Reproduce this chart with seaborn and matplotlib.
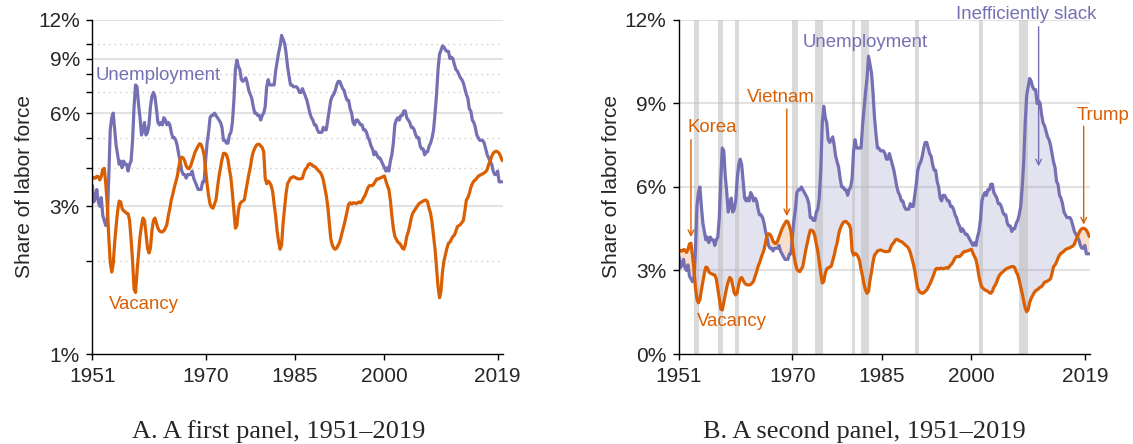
import numpy as np
import pandas as pd
import matplotlib
matplotlib.use("Agg")
import matplotlib.pyplot as plt
import seaborn as sns

# Quarterly data, 1951Q1 - 2019Q4 (percent of labor force)
years = list(range(1951, 2020))

unemployment = [
    3.5, 3.1, 3.2, 3.4,  3.1, 3.0, 3.2, 2.8,  2.7, 2.6, 2.7, 3.7,  5.3, 5.8, 6.0, 5.3,
    4.7, 4.4, 4.1, 4.2,  4.0, 4.2, 4.1, 4.1,  3.9, 4.1, 4.2, 4.9,  6.3, 7.4, 7.3, 6.4,
    5.8, 5.1, 5.3, 5.6,  5.1, 5.2, 5.5, 6.3,  6.8, 7.0, 6.8, 6.2,  5.6, 5.5, 5.6, 5.5,
    5.8, 5.7, 5.5, 5.6,  5.5, 5.2, 5.0, 5.0,  4.9, 4.7, 4.4, 4.2,  3.9, 3.8, 3.8, 3.7,
    3.8, 3.8, 3.8, 3.9,  3.7, 3.6, 3.5, 3.4,  3.4, 3.4, 3.6, 3.6,  4.2, 4.8, 5.2, 5.8,
    5.9, 5.9, 6.0, 5.9,  5.8, 5.7, 5.6, 5.4,  4.9, 4.9, 4.8, 4.8,  5.1, 5.2, 5.6, 6.6,
    8.3, 8.9, 8.5, 8.3,  7.7, 7.6, 7.7, 7.8,  7.5, 7.1, 6.9, 6.7,  6.3, 6.0, 6.0, 5.9,
    5.9, 5.7, 5.9, 6.0,  6.3, 7.3, 7.7, 7.4,  7.4, 7.4, 7.4, 8.2,  8.8, 9.4, 9.9, 10.7,
    10.4, 10.1, 9.4, 8.5, 7.9, 7.4, 7.4, 7.3,  7.3, 7.3, 7.2, 7.0,  7.0, 7.2, 7.0, 6.8,
    6.6, 6.3, 6.0, 5.8,  5.7, 5.5, 5.5, 5.3,  5.2, 5.2, 5.2, 5.4,  5.3, 5.3, 5.7, 6.1,
    6.6, 6.8, 6.9, 7.1,  7.4, 7.6, 7.6, 7.4,  7.2, 7.1, 6.8, 6.6,  6.6, 6.2, 6.0, 5.6,
    5.5, 5.7, 5.7, 5.6,  5.5, 5.5, 5.3, 5.3,  5.2, 5.0, 4.9, 4.7,  4.6, 4.4, 4.5, 4.4,
    4.3, 4.3, 4.2, 4.1,  4.0, 3.9, 4.0, 3.9,  4.2, 4.4, 4.8, 5.5,  5.7, 5.8, 5.7, 5.9,
    5.9, 6.1, 6.1, 5.8,  5.7, 5.6, 5.4, 5.4,  5.3, 5.1, 5.0, 5.0,  4.7, 4.6, 4.6, 4.4,
    4.5, 4.5, 4.7, 4.8,  5.0, 5.3, 6.0, 6.9,  8.3, 9.3, 9.6, 9.9,  9.8, 9.6, 9.5, 9.5,
    9.0, 9.1, 9.0, 8.6,  8.3, 8.2, 8.0, 7.8,  7.7, 7.5, 7.2, 6.9,  6.7, 6.2, 6.1, 5.7,
    5.6, 5.4, 5.1, 5.0,  4.9, 4.9, 4.9, 4.8,  4.6, 4.4, 4.3, 4.2,  4.1, 3.9, 3.8, 3.8,
    3.9, 3.6, 3.6, 3.6,
]

vacancy = [
    3.68, 3.72, 3.70, 3.75,  3.74, 3.65, 3.75, 3.95,  3.98, 3.55, 3.05, 2.40,
    1.98, 1.84, 1.95, 2.30,  2.60, 2.90, 3.12, 3.10,  2.95, 2.90, 2.88, 2.85,
    2.84, 2.70, 2.35, 2.00,  1.62, 1.58, 1.85, 2.10,  2.40, 2.60, 2.75, 2.70,
    2.45, 2.20, 2.12, 2.20,  2.50, 2.70, 2.75, 2.65,  2.55, 2.50, 2.48, 2.48,
    2.50, 2.55, 2.62, 2.80,  2.95, 3.15, 3.28, 3.45,  3.60, 3.75, 4.00, 4.28,
    4.32, 4.30, 4.20, 4.05,  3.98, 3.97, 4.05, 4.20,  4.35, 4.50, 4.60, 4.70,
    4.78, 4.75, 4.60, 4.40,  3.95, 3.55, 3.25, 3.05,  2.98, 2.96, 3.05, 3.15,
    3.45, 3.75, 4.00, 4.25,  4.45, 4.45, 4.40, 4.25,  3.95, 3.70, 3.30, 2.90,
    2.55, 2.60, 2.90, 3.05,  3.10, 3.12, 3.15, 3.35,  3.55, 3.80, 4.00, 4.30,
    4.50, 4.62, 4.72, 4.76,  4.76, 4.70, 4.65, 4.50,  3.70, 3.55, 3.62, 3.58,
    3.50, 3.35, 3.05, 2.80,  2.50, 2.30, 2.18, 2.25,  2.65, 2.95, 3.30, 3.55,
    3.62, 3.70, 3.72, 3.74,  3.72, 3.70, 3.68, 3.68,  3.68, 3.70, 3.85, 3.95,
    4.00, 4.10, 4.12, 4.10,  4.05, 4.04, 4.00, 3.95,  3.90, 3.86, 3.78, 3.65,
    3.45, 3.25, 3.00, 2.65,  2.36, 2.25, 2.20, 2.18,  2.20, 2.25, 2.30, 2.40,
    2.50, 2.62, 2.75, 2.90,  3.05, 3.08, 3.05, 3.08,  3.08, 3.06, 3.08, 3.10,
    3.08, 3.12, 3.20, 3.25,  3.35, 3.45, 3.50, 3.50,  3.50, 3.55, 3.62, 3.68,
    3.68, 3.70, 3.72, 3.74,  3.76, 3.62, 3.50, 3.40,  3.14, 2.80, 2.55, 2.40,
    2.35, 2.30, 2.28, 2.25,  2.20, 2.18, 2.25, 2.40,  2.48, 2.60, 2.75, 2.85,
    2.90, 2.95, 3.00, 3.05,  3.08, 3.10, 3.12, 3.14,  3.14, 3.10, 2.95, 2.85,
    2.65, 2.40, 2.18, 1.90,  1.65, 1.52, 1.60, 1.85,  2.00, 2.10, 2.20, 2.28,
    2.30, 2.35, 2.40, 2.42,  2.50, 2.58, 2.60, 2.62,  2.66, 2.70, 2.90, 3.14,
    3.20, 3.30, 3.45, 3.55,  3.62, 3.65, 3.70, 3.75,  3.78, 3.80, 3.82, 3.85,
    3.88, 3.95, 4.10, 4.20,  4.35, 4.45, 4.50, 4.52,  4.50, 4.45, 4.35, 4.22,
]

# NBER recessions (start, end in decimal years)
rec_start = [1953.5, 1957.6, 1960.3, 1969.9, 1973.8, 1980.0, 1981.5, 1990.5, 2001.2, 2007.9]
rec_end = [1954.4, 1958.3, 1961.1, 1970.9, 1975.2, 1980.5, 1982.9, 1991.2, 2001.9, 2009.5]

xticks = [1951, 1970, 1985, 2000, 2019]

purple = "#7570b3"
orange = "#d95f02"

t = [y + q / 4 for y in years for q in range(4)]
df = pd.DataFrame({"year": t, "Unemployment": unemployment, "Vacancy": vacancy})
u = df["Unemployment"].values
v = df["Vacancy"].values

sns.set_style("ticks")
plt.rcParams["font.family"] = ["Liberation Sans", "DejaVu Sans"]

fig = plt.figure(figsize=(11.33, 4.44), dpi=100)
ax1 = fig.add_axes([0.0815, 0.2027, 0.3622, 0.7523])
ax2 = fig.add_axes([0.5993, 0.2027, 0.3627, 0.7523])

# ---- Panel A: log scale
ax1.set_yscale("log")
for g in [3, 6, 9, 12]:
    ax1.axhline(g, color="#e2e2e2", lw=1.5, zorder=0)
for g in [2, 4, 5, 7, 8, 10]:
    ax1.axhline(g, color="#c9c9c9", lw=1, ls=(0, (1, 3)), zorder=0)
sns.lineplot(data=df, x="year", y="Unemployment", ax=ax1, color=purple, lw=2.3)
sns.lineplot(data=df, x="year", y="Vacancy", ax=ax1, color=orange, lw=2.3)
ax1.set_ylim(1, 12)
ax1.set_yticks([1, 3, 6, 9, 12])
ax1.set_yticklabels(["1%", "3%", "6%", "9%", "12%"])
ax1.set_yticks([2, 4, 5, 7, 8, 10], minor=True)
ax1.yaxis.set_minor_formatter(matplotlib.ticker.NullFormatter())
ax1.text(1962.0, 7.95, "Unemployment", color=purple, fontsize=13.4, ha="center", va="center")
ax1.text(1959.6, 1.44, "Vacancy", color=orange, fontsize=13.4, ha="center", va="center")

# ---- Panel B: linear scale
for g in [3, 6, 9, 12]:
    ax2.axhline(g, color="#e2e2e2", lw=1.5, zorder=0)
for s, e in zip(rec_start, rec_end):
    ax2.axvspan(s, e, color="#bdbdbd", alpha=0.55, lw=0, zorder=0.5)
ax2.fill_between(df["year"], u, v, where=u >= v, interpolate=True,
                 color=purple, alpha=0.2, lw=0, zorder=0.4)
ax2.fill_between(df["year"], u, v, where=v >= u, interpolate=True,
                 color=orange, alpha=0.2, lw=0, zorder=0.4)
sns.lineplot(data=df, x="year", y="Unemployment", ax=ax2, color=purple, lw=2.3)
sns.lineplot(data=df, x="year", y="Vacancy", ax=ax2, color=orange, lw=2.3)
ax2.set_ylim(0, 12)
ax2.set_yticks([0, 3, 6, 9, 12])
ax2.set_yticklabels(["0%", "3%", "6%", "9%", "12%"])
ax2.text(1982.2, 11.18, "Unemployment", color=purple, fontsize=13.4, ha="center", va="center")
ax2.text(1959.9, 1.16, "Vacancy", color=orange, fontsize=13.4, ha="center", va="center")

arrow_o = dict(arrowstyle="->", color=orange, lw=1, shrinkA=0, shrinkB=0)
ax2.text(1952.4, 8.13, "Korea", color=orange, fontsize=13.4, ha="left", va="center")
ax2.annotate("", xy=(1953.0, 4.2), xytext=(1953.0, 7.7), arrowprops=arrow_o)
ax2.text(1968.1, 9.2, "Vietnam", color=orange, fontsize=13.4, ha="center", va="center")
ax2.annotate("", xy=(1969.06, 4.95), xytext=(1969.06, 8.8), arrowprops=arrow_o)
ax2.text(2017.7, 8.56, "Trump", color=orange, fontsize=13.4, ha="left", va="center", clip_on=False)
ax2.annotate("", xy=(2018.8, 4.65), xytext=(2018.8, 8.18), arrowprops=arrow_o)
ax2.text(2009.1, 12.2, "Inefficiently slack", color=purple, fontsize=13.4, ha="center", va="center")
ax2.annotate("", xy=(2011.25, 6.74), xytext=(2011.25, 11.76),
             arrowprops=dict(arrowstyle="->", color=purple, lw=1, shrinkA=0, shrinkB=0))

for ax in (ax1, ax2):
    ax.set_xlim(1951, 2019.85)
    ax.set_xticks(xticks)
    ax.set_xticklabels([str(x) for x in xticks])
    ax.set_xlabel("")
    ax.set_ylabel("Share of labor force", fontsize=15, labelpad=3)
    ax.tick_params(axis="both", which="both", labelsize=15, length=4, width=1,
                   color="black", pad=5)
    for sp in ["top", "right"]:
        ax.spines[sp].set_visible(False)
    for sp in ["left", "bottom"]:
        ax.spines[sp].set_linewidth(1)
        ax.spines[sp].set_color("black")

fig.text(278.5 / 1133, 6 / 444, "A. A first panel, 1951–2019", fontsize=19,
         family=["Liberation Serif", "DejaVu Serif"], ha="center", va="baseline")
fig.text(864 / 1133, 6 / 444, "B. A second panel, 1951–2019", fontsize=19,
         family=["Liberation Serif", "DejaVu Serif"], ha="center", va="baseline")

fig.savefig("out.png", dpi=100)
